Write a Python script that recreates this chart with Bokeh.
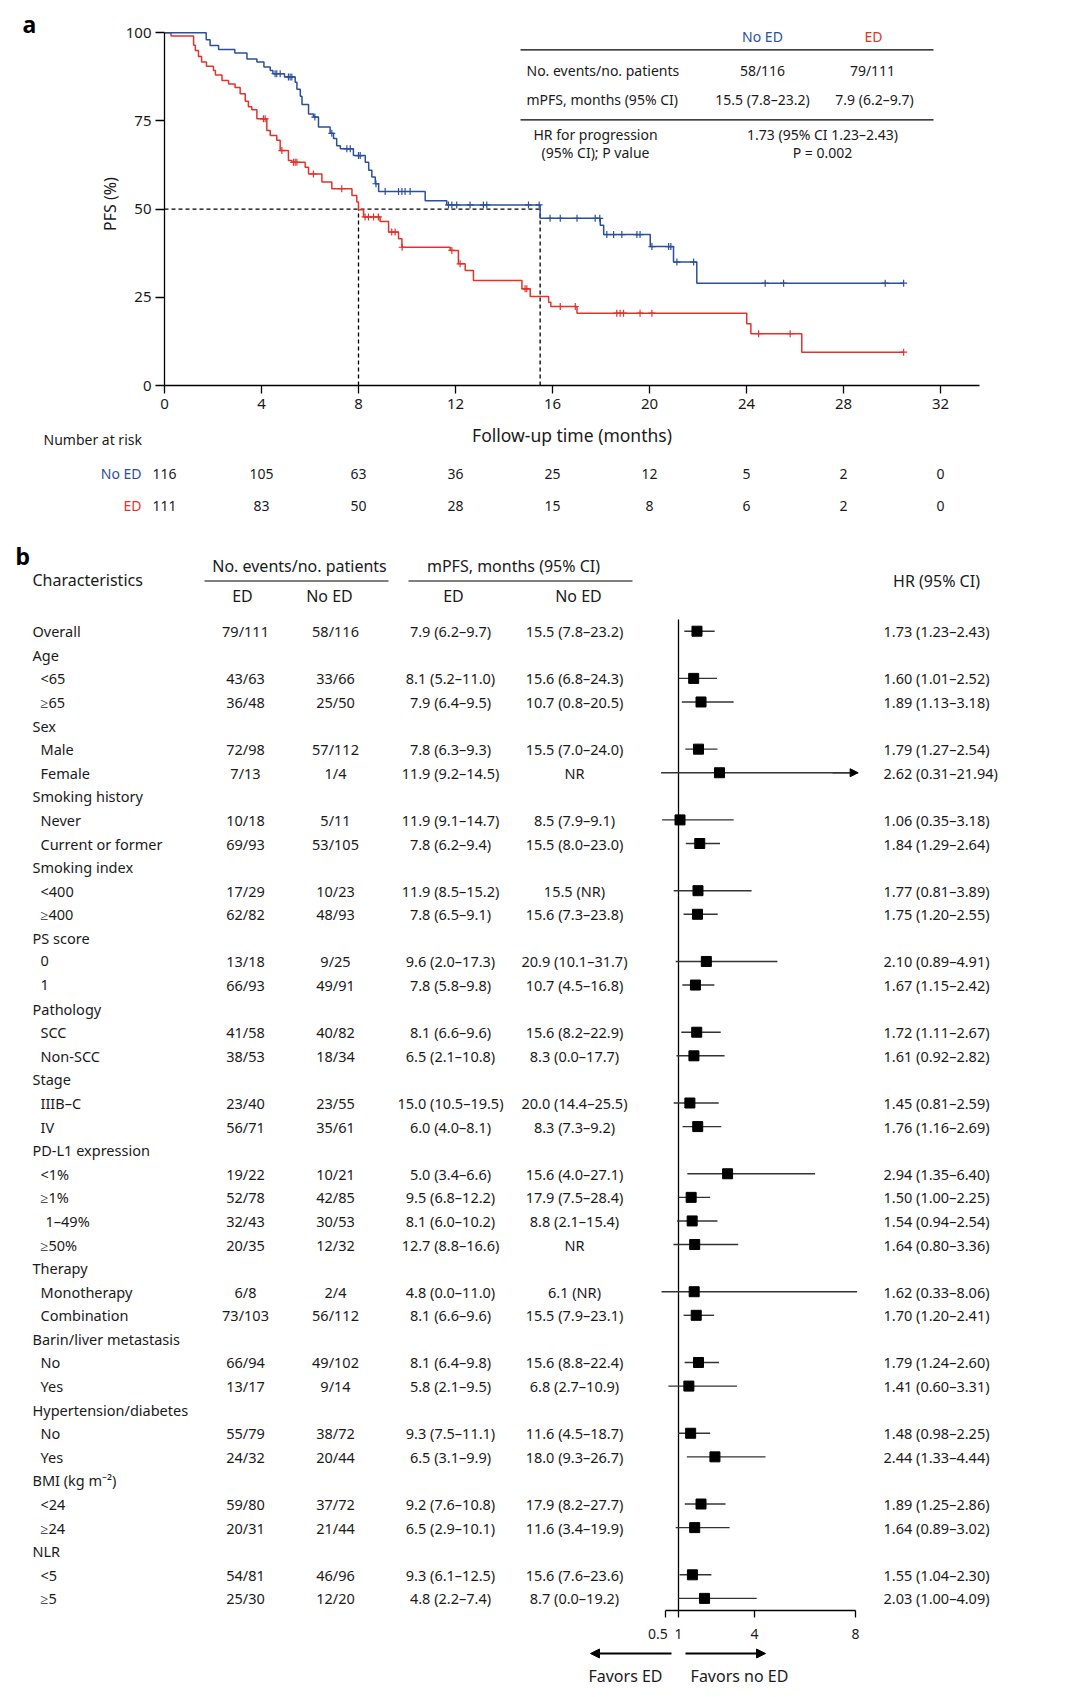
import numpy as np
from bokeh.plotting import figure
from bokeh.layouts import column, row
from bokeh.models import Range1d, FixedTicker, Arrow, NormalHead, ColumnDataSource
from bokeh.core.properties import value
from bokeh.embed import file_html
from bokeh.resources import INLINE

FONT = "Noto Sans"
BLUE = "#2c4f9c"
RED = "#e4322b"
INK = "#1a1a1a"

# ---------------- Panel a data: Kaplan-Meier PFS ----------------
noed_t = [0, 1.72, 1.88, 2.23, 2.90, 3.40, 3.81, 4.10, 4.36, 4.47, 4.95, 5.39, 5.46, 5.60, 5.67,
          5.94, 6.14, 6.35, 6.83, 6.97, 7.10, 7.25, 7.79, 8.28, 8.42, 8.55, 8.69, 8.83, 10.75,
          11.64, 15.49, 17.97, 18.11, 20.03, 20.99, 21.95]
noed_s = [100, 98.0, 96.4, 95.3, 94.3, 92.6, 91.7, 90.3, 89.3, 88.4, 87.5, 86.0, 84.0, 82.0, 79.7,
          77.0, 76.1, 73.3, 71.5, 70.0, 68.0, 67.1, 65.2, 63.3, 61.0, 59.1, 57.2, 55.0, 52.4,
          51.2, 47.4, 45.4, 42.8, 39.4, 35.0, 29.0]
noed_end = 30.48
noed_cens = [4.56, 4.63, 4.77, 5.11, 5.18, 5.25, 6.20, 6.90, 7.52, 7.66, 8.00, 8.07, 8.72, 9.10,
             9.65, 9.79, 9.92, 10.13, 11.71, 11.85, 12.05, 12.60, 13.15, 13.29, 15.01, 15.45,
             15.90, 16.32, 17.01, 17.76, 17.95, 18.24, 18.52, 18.86, 19.48, 19.61, 20.10, 20.79,
             20.88, 21.13, 21.82, 24.77, 25.53, 29.72, 30.48]

ed_t = [0, 0.27, 1.20, 1.27, 1.40, 1.53, 1.73, 2.02, 2.10, 2.37, 2.64, 2.91, 3.12, 3.33, 3.46,
        3.60, 3.81, 4.22, 4.36, 4.63, 4.77, 5.11, 5.25, 5.80, 5.94, 6.49, 6.90, 7.73, 7.93, 8.00,
        8.21, 8.89, 9.24, 9.65, 9.79, 11.78, 12.12, 12.40, 12.74, 14.74, 15.08, 15.84, 15.93,
        17.01, 24.01, 24.18, 26.28]
ed_s = [100, 99.1, 96.5, 95.0, 93.3, 91.7, 90.5, 89.3, 88.0, 86.5, 85.5, 84.5, 82.7, 80.6, 79.0,
        78.2, 75.6, 72.3, 70.9, 69.5, 66.6, 63.8, 63.3, 61.9, 60.0, 57.7, 55.8, 53.9, 52.0, 49.8,
        47.8, 46.5, 43.5, 41.6, 39.2, 38.3, 34.5, 32.6, 29.8, 27.4, 25.2, 23.6, 22.4,
        20.5, 17.5, 14.7, 9.45]
ed_end = 30.48
ed_cens = [4.08, 4.15, 4.84, 5.32, 5.39, 5.46, 6.14, 7.31, 8.27, 8.41, 8.62, 8.82, 9.37, 9.51,
           9.80, 11.85, 12.19, 14.87, 14.94, 16.32, 16.94, 18.65, 18.79, 18.93, 19.61, 20.10,
           24.50, 25.80, 30.48]

risk_times = [0, 4, 8, 12, 16, 20, 24, 28, 32]
risk_noed = [116, 105, 63, 36, 25, 12, 5, 2, 0]
risk_ed = [111, 83, 50, 28, 15, 8, 6, 2, 0]
y_ticks = [0, 25, 50, 75, 100]

tbl_groups = ["No ED", "ED"]
tbl_events = ["58/116", "79/111"]
tbl_mpfs = ["15.5 (7.8–23.2)", "7.9 (6.2–9.7)"]
tbl_hr = "1.73 (95% CI 1.23–2.43)"
tbl_p = "P = 0.002"

# ---------------- Panel b data: forest plot ----------------
labels = ["Overall", "Age", "<65", "≥65", "Sex", "Male", "Female", "Smoking history", "Never",
          "Current or former", "Smoking index", "<400", "≥400", "PS score", "0", "1", "Pathology",
          "SCC", "Non-SCC", "Stage", "IIIB–C", "IV", "PD-L1 expression", "<1%", "≥1%", "1–49%",
          "≥50%", "Therapy", "Monotherapy", "Combination", "Barin/liver metastasis", "No", "Yes",
          "Hypertension/diabetes", "No", "Yes", "BMI (kg m⁻²)", "<24", "≥24", "NLR", "<5", "≥5"]
levels = [0, 0, 1, 1, 0, 1, 1, 0, 1, 1, 0, 1, 1, 0, 1, 1, 0, 1, 1, 0, 1, 1, 0, 1, 1, 2, 1, 0, 1, 1,
          0, 1, 1, 0, 1, 1, 0, 1, 1, 0, 1, 1]
ed_n = ["79/111", "", "43/63", "36/48", "", "72/98", "7/13", "", "10/18", "69/93", "", "17/29",
        "62/82", "", "13/18", "66/93", "", "41/58", "38/53", "", "23/40", "56/71", "", "19/22",
        "52/78", "32/43", "20/35", "", "6/8", "73/103", "", "66/94", "13/17", "", "55/79", "24/32",
        "", "59/80", "20/31", "", "54/81", "25/30"]
noed_n = ["58/116", "", "33/66", "25/50", "", "57/112", "1/4", "", "5/11", "53/105", "", "10/23",
          "48/93", "", "9/25", "49/91", "", "40/82", "18/34", "", "23/55", "35/61", "", "10/21",
          "42/85", "30/53", "12/32", "", "2/4", "56/112", "", "49/102", "9/14", "", "38/72",
          "20/44", "", "37/72", "21/44", "", "46/96", "12/20"]
mpfs_ed = ["7.9 (6.2–9.7)", "", "8.1 (5.2–11.0)", "7.9 (6.4–9.5)", "", "7.8 (6.3–9.3)",
           "11.9 (9.2–14.5)", "", "11.9 (9.1–14.7)", "7.8 (6.2–9.4)", "", "11.9 (8.5–15.2)",
           "7.8 (6.5–9.1)", "", "9.6 (2.0–17.3)", "7.8 (5.8–9.8)", "", "8.1 (6.6–9.6)",
           "6.5 (2.1–10.8)", "", "15.0 (10.5–19.5)", "6.0 (4.0–8.1)", "", "5.0 (3.4–6.6)",
           "9.5 (6.8–12.2)", "8.1 (6.0–10.2)", "12.7 (8.8–16.6)", "", "4.8 (0.0–11.0)",
           "8.1 (6.6–9.6)", "", "8.1 (6.4–9.8)", "5.8 (2.1–9.5)", "", "9.3 (7.5–11.1)",
           "6.5 (3.1–9.9)", "", "9.2 (7.6–10.8)", "6.5 (2.9–10.1)", "", "9.3 (6.1–12.5)",
           "4.8 (2.2–7.4)"]
mpfs_noed = ["15.5 (7.8–23.2)", "", "15.6 (6.8–24.3)", "10.7 (0.8–20.5)", "", "15.5 (7.0–24.0)",
             "NR", "", "8.5 (7.9–9.1)", "15.5 (8.0–23.0)", "", "15.5 (NR)", "15.6 (7.3–23.8)", "",
             "20.9 (10.1–31.7)", "10.7 (4.5–16.8)", "", "15.6 (8.2–22.9)", "8.3 (0.0–17.7)", "",
             "20.0 (14.4–25.5)", "8.3 (7.3–9.2)", "", "15.6 (4.0–27.1)", "17.9 (7.5–28.4)",
             "8.8 (2.1–15.4)", "NR", "", "6.1 (NR)", "15.5 (7.9–23.1)", "", "15.6 (8.8–22.4)",
             "6.8 (2.7–10.9)", "", "11.6 (4.5–18.7)", "18.0 (9.3–26.7)", "", "17.9 (8.2–27.7)",
             "11.6 (3.4–19.9)", "", "15.6 (7.6–23.6)", "8.7 (0.0–19.2)"]
nan = float("nan")
hr = [1.73, nan, 1.60, 1.89, nan, 1.79, 2.62, nan, 1.06, 1.84, nan, 1.77, 1.75, nan, 2.10, 1.67,
      nan, 1.72, 1.61, nan, 1.45, 1.76, nan, 2.94, 1.50, 1.54, 1.64, nan, 1.62, 1.70, nan, 1.79,
      1.41, nan, 1.48, 2.44, nan, 1.89, 1.64, nan, 1.55, 2.03]
hr_lo = [1.23, nan, 1.01, 1.13, nan, 1.27, 0.31, nan, 0.35, 1.29, nan, 0.81, 1.20, nan, 0.89, 1.15,
         nan, 1.11, 0.92, nan, 0.81, 1.16, nan, 1.35, 1.00, 0.94, 0.80, nan, 0.33, 1.20, nan, 1.24,
         0.60, nan, 0.98, 1.33, nan, 1.25, 0.89, nan, 1.04, 1.00]
hr_hi = [2.43, nan, 2.52, 3.18, nan, 2.54, 21.94, nan, 3.18, 2.64, nan, 3.89, 2.55, nan, 4.91, 2.42,
         nan, 2.67, 2.82, nan, 2.59, 2.69, nan, 6.40, 2.25, 2.54, 3.36, nan, 8.06, 2.41, nan, 2.60,
         3.31, nan, 2.25, 4.44, nan, 2.86, 3.02, nan, 2.30, 4.09]
hr_ticks = [0.5, 1, 4, 8]

# ---------------- helpers ----------------
W = 1065
FIG = dict(output_backend="svg", toolbar_location=None, frame_align=False)


def add_text(p, xs, ys, texts, align="left", size="14px", color=INK, style="normal"):
    src = ColumnDataSource(dict(x=list(xs), y=list(ys), text=list(texts)))
    p.text("x", "y", "text", source=src, text_align=align, text_baseline="middle",
           text_font=value(FONT), text_font_size=size, text_color=color, text_font_style=style)


def clean(p):
    p.outline_line_color = None
    p.grid.grid_line_color = None
    p.background_fill_color = "white"
    p.border_fill_color = "white"


def style_axis(ax, label_size="15px"):
    ax.axis_line_color = "black"
    ax.axis_line_width = 1.3
    ax.major_tick_line_color = "black"
    ax.major_tick_line_width = 1.3
    ax.major_tick_in = 0
    ax.minor_tick_in = 0
    ax.minor_tick_out = 0
    ax.major_label_text_font = FONT
    ax.major_label_text_font_size = label_size
    ax.major_label_text_color = INK
    ax.axis_label_text_font = FONT
    ax.axis_label_text_font_style = "normal"
    ax.axis_label_text_color = INK


# ---------------- Panel a: KM plot ----------------
def kx(px):
    return (px - 164.0) / 24.25


def ky(py):
    return (385.0 - py) / 3.527


STRIP = 90
pA = figure(width=W - STRIP, height=422, x_range=Range1d(0, kx(979.0)),
            y_range=Range1d(0, ky(22.0)), min_border_left=164 - STRIP,
            min_border_right=W - 979, min_border_top=22, min_border_bottom=37, **FIG)
clean(pA)


def at(t, s, c):
    i = np.searchsorted(np.asarray(t), np.asarray(c), side="right") - 1
    return list(np.asarray(s)[i])


def median_time(t, s):
    for ti, si in zip(t, s):
        if si <= 50:
            return ti


med_ed = median_time(ed_t, ed_s)
med_noed = median_time(noed_t, noed_s)
pA.segment(x0=[0, med_ed, med_noed], y0=[50, 0, 0], x1=[med_noed, med_ed, med_noed],
           y1=[50, 50, 50], line_color="black", line_width=1.3, line_dash="4 3")

pA.step(ed_t + [ed_end], ed_s + [ed_s[-1]], mode="after", line_color=RED, line_width=1.5)
pA.step(noed_t + [noed_end], noed_s + [noed_s[-1]], mode="after", line_color=BLUE, line_width=1.5)
pA.scatter(ed_cens, at(ed_t, ed_s, ed_cens), marker="cross", size=7, line_color=RED, line_width=1.2)
pA.scatter(noed_cens, at(noed_t, noed_s, noed_cens), marker="cross", size=7, line_color=BLUE,
           line_width=1.2)

# summary table inside the KM plot
add_text(pA, [kx(762)], [ky(35.7)], [tbl_groups[0]], align="center", color=BLUE)
add_text(pA, [kx(873)], [ky(35.7)], [tbl_groups[1]], align="center", color=RED)
add_text(pA, [kx(526)], [ky(70)], ["No. events/no. patients"])
add_text(pA, [kx(762), kx(872)], [ky(70)] * 2, tbl_events, align="center")
add_text(pA, [kx(526)], [ky(99.3)], ["mPFS, months (95% CI)"])
add_text(pA, [kx(762), kx(874)], [ky(99.3)] * 2, tbl_mpfs, align="center")
add_text(pA, [kx(595), kx(595)], [ky(134.3), ky(151.7)],
         ["HR for progression", "(95% CI); P value"], align="center")
add_text(pA, [kx(822), kx(822)], [ky(134.3), ky(151.7)], [tbl_hr, tbl_p], align="center")
pA.segment(x0=[kx(520)] * 2, y0=[ky(49.3), ky(119.3)], x1=[kx(933)] * 2, y1=[ky(49.3), ky(119.3)],
           line_color="black", line_width=1.2)

pA.xaxis.ticker = FixedTicker(ticks=risk_times)
pA.yaxis.ticker = FixedTicker(ticks=y_ticks)
pA.yaxis.bounds = (0, 100)
pA.yaxis.axis_label = "PFS (%)"
for ax in pA.axis:
    style_axis(ax)
pA.xaxis.major_tick_out = 8
pA.yaxis.major_tick_out = 9
pA.xaxis.major_label_standoff = 5
pA.yaxis.major_label_standoff = 4
pA.yaxis.axis_label_standoff = 2
pA.yaxis.axis_label_text_font_size = "16px"

# panel letter strip to the left of the KM plot
pS = figure(width=STRIP, height=422, x_range=Range1d(0, STRIP), y_range=Range1d(422, 0),
            x_axis_location=None, y_axis_location=None, min_border=0, **FIG)
clean(pS)
add_text(pS, [22], [23], ["a"], size="23px", color="black", style="bold")

# ---------------- number at risk + x-axis title ----------------
pR = figure(width=W, height=100, x_range=Range1d(kx(0), kx(W)), y_range=Range1d(522, 422),
            x_axis_location=None, y_axis_location=None, min_border=0, **FIG)
clean(pR)
add_text(pR, [kx(571.5)], [434], ["Follow-up time (months)"], align="center", size="17.5px")
add_text(pR, [kx(43)], [439], ["Number at risk"])
add_text(pR, [kx(141)], [473], ["No ED"], align="right", color=BLUE)
add_text(pR, [kx(141)], [505], ["ED"], align="right", color=RED)
add_text(pR, risk_times, [473] * len(risk_times), [str(v) for v in risk_noed], align="center")
add_text(pR, risk_times, [505] * len(risk_times), [str(v) for v in risk_ed], align="center")

# ---------------- Panel b: forest plot ----------------
def hx(px):
    return 1 + (px - 678.0) / 25.3


def ry(py):
    return (py - 630.7) / 23.59


pB = figure(width=W, height=1124, x_range=Range1d(hx(0), hx(W)),
            y_range=Range1d(ry(1610), ry(522)), y_axis_location=None, min_border=0,
            min_border_bottom=36, **FIG)
clean(pB)
rows = list(range(len(labels)))

add_text(pB, [hx(15)], [ry(555)], ["b"], size="23px", color="black", style="bold")
add_text(pB, [hx(32)], [ry(579)], ["Characteristics"], size="16px")
add_text(pB, [hx(299), hx(513)], [ry(565)] * 2,
         ["No. events/no. patients", "mPFS, months (95% CI)"], align="center", size="16px")
add_text(pB, [hx(242), hx(329), hx(453), hx(578)], [ry(595)] * 4,
         ["ED", "No ED", "ED", "No ED"], align="center", size="16px")
add_text(pB, [hx(936)], [ry(580)], ["HR (95% CI)"], align="center", size="16px")
pB.segment(x0=[hx(204), hx(408)], y0=[ry(580.5)] * 2, x1=[hx(388), hx(632)], y1=[ry(580.5)] * 2,
           line_color="black", line_width=1.2)

indent = [hx(32), hx(40), hx(45)]
add_text(pB, [indent[l] for l in levels], rows, labels, size="14.5px")
add_text(pB, [hx(245)] * len(rows), rows, ed_n, align="center", size="14.5px")
add_text(pB, [hx(335)] * len(rows), rows, noed_n, align="center", size="14.5px")
add_text(pB, [hx(450)] * len(rows), rows, mpfs_ed, align="center", size="14.5px")
add_text(pB, [hx(574)] * len(rows), rows, mpfs_noed, align="center", size="14.5px")
hr_text = ["" if np.isnan(h) else f"{h:.2f} ({lo:.2f}–{hi:.2f})"
           for h, lo, hi in zip(hr, hr_lo, hr_hi)]
add_text(pB, [hx(883)] * len(rows), rows, hr_text, size="14.5px")

CLIP = 8.1
pB.segment(x0=[1], y0=[ry(619)], x1=[1], y1=[ry(1610)], line_color="black", line_width=1.3)
ci_rows = [r for r in rows if not np.isnan(hr[r])]
pB.segment(x0=[hr_lo[r] for r in ci_rows], y0=ci_rows,
           x1=[min(hr_hi[r], CLIP) for r in ci_rows], y1=ci_rows,
           line_color="#333333", line_width=1.4)
for r in ci_rows:
    if hr_hi[r] > CLIP:
        pB.add_layout(Arrow(x_start=CLIP - 1.0, y_start=r, x_end=CLIP, y_end=r,
                            line_color="#333333", line_width=1.4,
                            end=NormalHead(size=8, fill_color="black", line_color="black")))
pB.scatter([hr[r] for r in ci_rows], ci_rows, marker="square", size=10, fill_color="black",
           line_color="black")

pB.xaxis.ticker = FixedTicker(ticks=hr_ticks)
pB.xaxis.bounds = (0.5, 8)
pB.xaxis.major_label_overrides = {0.5: "0.5\u2007\u2007", 1: "1", 4: "4", 8: "8"}
style_axis(pB.xaxis[0], "14px")
pB.xaxis.major_tick_out = 7
pB.xaxis.major_label_standoff = 6

# ---------------- favors arrows ----------------
pF = figure(width=W, height=48, x_range=Range1d(hx(0), hx(W)), y_range=Range1d(1694, 1646),
            x_axis_location=None, y_axis_location=None, min_border=0, **FIG)
clean(pF)
pF.add_layout(Arrow(x_start=hx(671), y_start=1653, x_end=hx(590), y_end=1653, line_width=2,
                    line_color="black", end=NormalHead(size=9, fill_color="black", line_color="black")))
pF.add_layout(Arrow(x_start=hx(685), y_start=1653, x_end=hx(765), y_end=1653, line_width=2,
                    line_color="black", end=NormalHead(size=9, fill_color="black", line_color="black")))
add_text(pF, [hx(625), hx(739)], [1675, 1675], ["Favors ED", "Favors no ED"], align="center",
         size="16px")

layout = column(row(pS, pA, spacing=0), pR, pB, pF, spacing=0)
open("out.html", "w").write(file_html(layout, INLINE))
